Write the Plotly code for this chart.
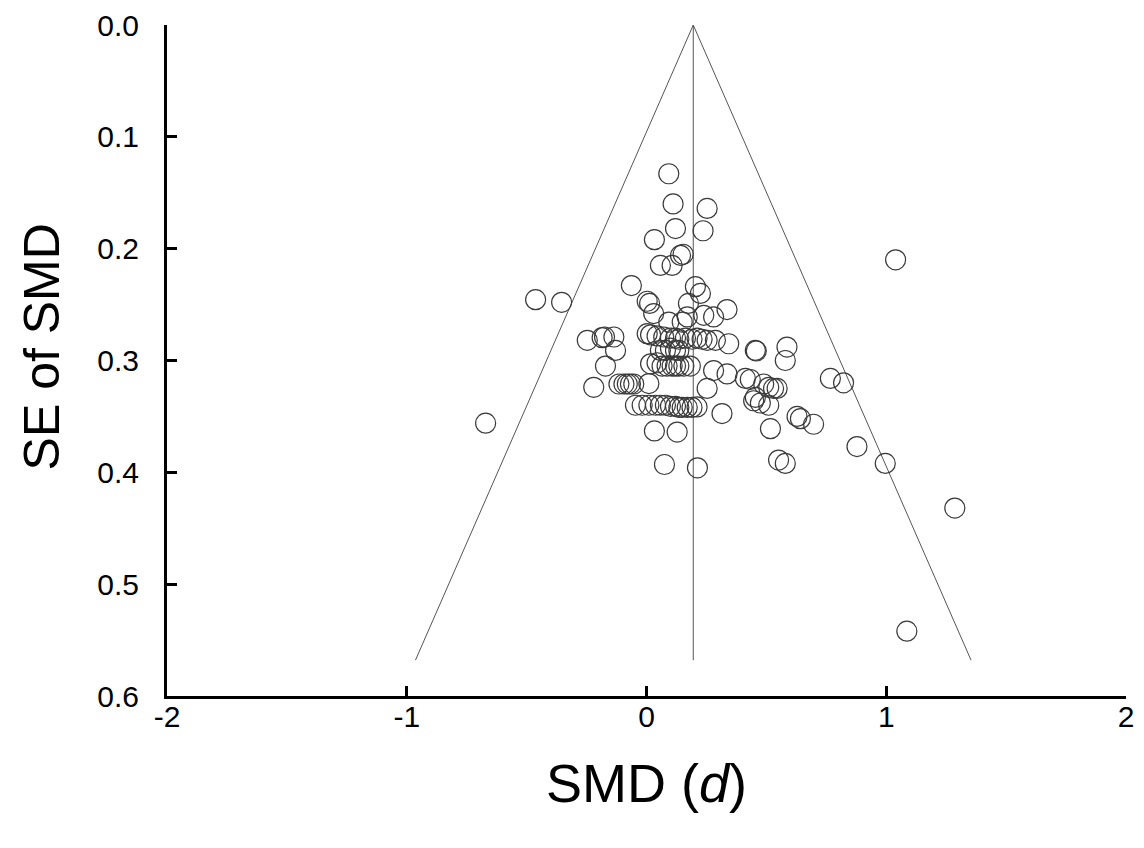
import plotly.graph_objects as go

# Study effect sizes (SMD, d) and their standard errors
smd = [0.093, 0.111, 0.253, 0.121, 0.236, 0.033, 0.142, 0.153, 0.058, 0.107, 1.039,
       -0.063, 0.204, 0.225, -0.4625, -0.354, 0.003, 0.013, 0.175, 0.336, 0.03, 0.239, 0.28, 0.17, 0.093, 0.149,
       -0.247, -0.185, -0.175, -0.136, 0.003, 0.017, 0.044, 0.072, 0.1, 0.121, 0.135, 0.1625, 0.19, 0.211, 0.232, 0.253, 0.2875, 0.343, 0.586, 0.458, 0.454,
       -0.129, 0.058, 0.079, 0.1, 0.121, 0.135, 0.579,
       -0.171, 0.017, 0.044, 0.065, 0.086, 0.107, 0.121, 0.135, 0.156, 0.183, 0.28, 0.336, 0.4125, 0.433, 0.767, 0.822,
       -0.22, -0.115, -0.094, -0.08, -0.067, -0.053, 0.01, 0.253, 0.489, 0.51, 0.53, 0.545,
       -0.046, -0.018, 0.01, 0.0375, 0.058, 0.079, 0.1, 0.121, 0.135, 0.149, 0.17, 0.19, 0.211, 0.315, 0.447, 0.475, 0.51, 0.454,
       0.628, 0.642, 0.697, -0.671, 0.517, 0.033, 0.128, 0.878, 0.551, 0.579, 0.996, 0.075, 0.2125, 1.286, 1.086]
se = [0.133, 0.160, 0.164, 0.182, 0.184, 0.192, 0.206, 0.205, 0.215, 0.215, 0.210,
      0.233, 0.234, 0.240, 0.2456, 0.248, 0.247, 0.249, 0.249, 0.2545, 0.258, 0.2596, 0.261, 0.261, 0.2656, 0.2656,
      0.282, 0.2796, 0.279, 0.279, 0.276, 0.277, 0.278, 0.279, 0.280, 0.280, 0.281, 0.280, 0.281, 0.280, 0.281, 0.282, 0.282, 0.285, 0.288, 0.2915, 0.291,
      0.291, 0.291, 0.291, 0.289, 0.291, 0.291, 0.300,
      0.305, 0.303, 0.302, 0.305, 0.305, 0.305, 0.305, 0.305, 0.305, 0.305, 0.309, 0.312, 0.316, 0.317, 0.316, 0.320,
      0.324, 0.321, 0.321, 0.321, 0.321, 0.321, 0.3206, 0.325, 0.321, 0.324, 0.325, 0.325,
      0.340, 0.340, 0.340, 0.340, 0.340, 0.340, 0.341, 0.341, 0.342, 0.342, 0.342, 0.342, 0.3415, 0.3475, 0.336, 0.338, 0.340, 0.333,
      0.350, 0.352, 0.357, 0.356, 0.361, 0.363, 0.364, 0.377, 0.389, 0.392, 0.392, 0.393, 0.396, 0.432, 0.542]

# Funnel parameters
pooled = 0.195
z_mult = 2.04
se_max = 0.568

x_ticks = [-2, -1, 0, 1, 2]
y_ticks = [0.0, 0.1, 0.2, 0.3, 0.4, 0.5, 0.6]
y_tick_text = ["0.0", "0.1", "0.2", "0.3", "0.4", "0.5", "0.6"]

fig = go.Figure()

line_style = dict(color="#555555", width=1)
fig.add_trace(go.Scatter(x=[pooled - z_mult * se_max, pooled, pooled + z_mult * se_max],
                         y=[se_max, 0.0, se_max], mode="lines", line=line_style,
                         showlegend=False, hoverinfo="skip"))
fig.add_trace(go.Scatter(x=[pooled, pooled], y=[0.0, se_max], mode="lines", line=line_style,
                         showlegend=False, hoverinfo="skip"))
fig.add_trace(go.Scatter(x=smd, y=se, mode="markers",
                         marker=dict(symbol="circle-open", size=20, color="#3a3a3a",
                                     line=dict(width=1.2, color="#3a3a3a")),
                         showlegend=False))

tick_font = dict(family="Liberation Sans, Arial, sans-serif", size=30, color="black")
title_font = dict(family="Liberation Sans, Arial, sans-serif", size=54, color="black")
ytitle_font = dict(family="Liberation Sans Narrow, Liberation Sans, Arial, sans-serif", size=50, color="black")

fig.update_layout(
    width=1136, height=840,
    margin=dict(l=158.7, r=17.7, t=16.5, b=152, autoexpand=False),
    plot_bgcolor="white", paper_bgcolor="white",
    xaxis=dict(range=[-2, 2], tickvals=x_ticks, ticktext=[str(v) for v in x_ticks],
               showgrid=False, zeroline=False, showline=True, linecolor="black", linewidth=3,
               ticks="inside", ticklen=10, tickwidth=3, tickcolor="black",
               tickfont=tick_font, ticklabelstandoff=-8, automargin=False,
               title=dict(text="SMD (<i>d</i>)", font=title_font, standoff=33)),
    yaxis=dict(range=[0.6, 0.0], tickvals=y_ticks, ticktext=y_tick_text,
               showgrid=False, zeroline=False, showline=True, linecolor="black", linewidth=3,
               ticks="inside", ticklen=10, tickwidth=3, tickcolor="black",
               tickfont=tick_font, ticklabelstandoff=19, automargin=False),
    annotations=[dict(text="SE of SMD", xref="paper", yref="paper", x=-0.13, y=0.52,
                      xanchor="center", yanchor="middle", textangle=-90,
                      showarrow=False, font=ytitle_font)],
)

fig.write_html("out.html")
